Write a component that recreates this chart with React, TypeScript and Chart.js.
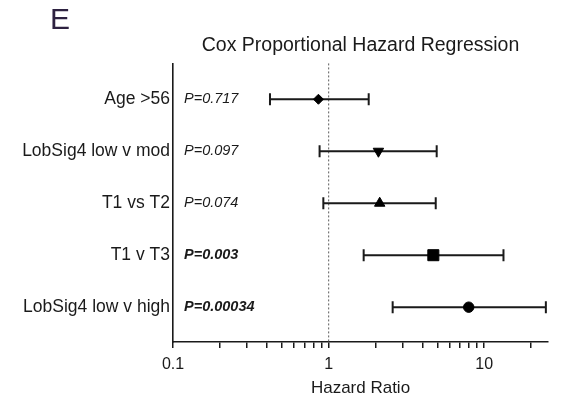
import React, { useEffect, useRef } from "react";
import { Chart, registerables } from "chart.js";

Chart.register(...registerables);

const categories = ["Age >56", "LobSig4 low v mod", "T1 vs T2", "T1 v T3", "LobSig4 low v high"];
const hazardRatio = [0.86, 2.09, 2.13, 4.71, 7.95];
const lowerCI = [0.42, 0.875, 0.925, 1.68, 2.58];
const upperCI = [1.81, 4.95, 4.88, 13.3, 24.9];
const pValues = ["P=0.717", "P=0.097", "P=0.074", "P=0.003", "P=0.00034"];
const significant = [false, false, false, true, true];
const markerStyles = ["rectRot", "triangle", "triangle", "rect", "circle"];
const markerRotations = [0, 180, 0, 0, 0];
const markerRadii = [5, 6, 6, 7.8, 5.2];
const xTickLabels = [0.1, 1, 10];

const FONT = "'Liberation Sans', Arial, Helvetica, sans-serif";
const INK = "#1a1a1a";

const rowValue = (i: number) => categories.length - i;

const forestPlugin = {
  id: "forest",
  beforeDatasetsDraw(chart: any) {
    const { ctx, chartArea, scales } = chart;
    const xs = scales.x;
    const ys = scales.y;
    ctx.save();
    // reference line at HR = 1
    const x1 = xs.getPixelForValue(1);
    ctx.strokeStyle = "#777";
    ctx.lineWidth = 1.2;
    ctx.setLineDash([2, 2]);
    ctx.beginPath();
    ctx.moveTo(x1, chartArea.top);
    ctx.lineTo(x1, chartArea.bottom);
    ctx.stroke();
    ctx.setLineDash([]);
    // error bars
    ctx.strokeStyle = INK;
    ctx.lineWidth = 2;
    categories.forEach((_, i) => {
      const y = ys.getPixelForValue(rowValue(i));
      const a = xs.getPixelForValue(lowerCI[i]);
      const b = xs.getPixelForValue(upperCI[i]);
      ctx.beginPath();
      ctx.moveTo(a, y);
      ctx.lineTo(b, y);
      ctx.moveTo(a, y - 6);
      ctx.lineTo(a, y + 6);
      ctx.moveTo(b, y - 6);
      ctx.lineTo(b, y + 6);
      ctx.stroke();
    });
    // p-values
    ctx.fillStyle = INK;
    ctx.textAlign = "left";
    ctx.textBaseline = "middle";
    categories.forEach((_, i) => {
      const y = ys.getPixelForValue(rowValue(i));
      ctx.font = (significant[i] ? "italic bold " : "italic ") + "14.5px " + FONT;
      ctx.fillText(pValues[i], chartArea.left + 11, y);
    });
    ctx.restore();
  },
  afterDraw(chart: any) {
    const { ctx } = chart;
    ctx.save();
    ctx.fillStyle = "#2d2140";
    ctx.font = "30px " + FONT;
    ctx.textAlign = "left";
    ctx.textBaseline = "middle";
    ctx.fillText("E", 50, 21);
    ctx.restore();
  },
};

export default function App() {
  const ref = useRef<HTMLCanvasElement>(null);
  useEffect(() => {
    if (!ref.current) return;
    Chart.defaults.font.family = FONT;
    Chart.defaults.color = INK;
    const chart = new Chart(ref.current, {
      type: "scatter",
      data: {
        datasets: [
          {
            data: hazardRatio.map((v, i) => ({ x: v, y: rowValue(i) })),
            pointStyle: markerStyles as any,
            pointRotation: markerRotations,
            pointRadius: markerRadii,
            pointHoverRadius: markerRadii,
            backgroundColor: "#000",
            borderColor: "#000",
            borderWidth: 1,
          },
        ],
      },
      options: {
        responsive: false,
        animation: false,
        devicePixelRatio: 1,
        layout: { padding: { left: 0, right: 16, top: 0, bottom: 0 } },
        plugins: {
          legend: { display: false },
          tooltip: { enabled: false },
          title: {
            display: true,
            text: "Cox Proportional Hazard Regression",
            fullSize: false,
            color: INK,
            font: { size: 19.5, weight: "normal", family: FONT },
            padding: { top: 34, bottom: 6 },
          },
        },
        scales: {
          x: {
            type: "logarithmic",
            min: 0.1,
            max: 25.7,
            afterFit: (s: any) => {
              s.height = 57;
            },
            afterBuildTicks: (s: any) => {
              s.ticks = s.ticks.filter((t: any) => {
                const e = Math.floor(Math.log10(t.value) + 1e-9);
                const m = t.value / Math.pow(10, e);
                return Math.abs(m - Math.round(m)) < 1e-6 && t.value <= 25.7;
              });
            },
            ticks: {
              autoSkip: false,
              maxRotation: 0,
              padding: 7,
              color: INK,
              font: { size: 16 },
              callback: (v: any) => {
                const n = Number(v);
                return xTickLabels.some((t) => Math.abs(t - n) < 1e-9) ? String(n) : "";
              },
            },
            grid: {
              display: true,
              drawOnChartArea: false,
              drawTicks: true,
              tickLength: 6,
              color: INK,
              lineWidth: 1.5,
            },
            border: { display: true, color: INK, width: 1.6 },
            title: {
              display: true,
              text: "Hazard Ratio",
              color: INK,
              font: { size: 17 },
              padding: 0,
            },
          },
          y: {
            type: "linear",
            min: 0.33,
            max: 5.69,
            afterFit: (s: any) => {
              s.width = 173;
            },
            afterBuildTicks: (s: any) => {
              s.ticks = categories.map((_, i) => ({ value: rowValue(i) }));
            },
            ticks: {
              padding: 3,
              color: INK,
              font: { size: 17.5 },
              callback: (v: any) => categories[categories.length - Number(v)] ?? "",
            },
            grid: { display: false, drawTicks: false },
            border: { display: true, color: INK, width: 1.6 },
          },
        },
      },
      plugins: [forestPlugin],
    });
    return () => chart.destroy();
  }, []);
  return (
    <div style={{ position: "fixed", left: 0, top: 0, width: 564, height: 399, background: "#fff" }}>
      <canvas ref={ref} width={564} height={399} style={{ display: "block" }} />
    </div>
  );
}
